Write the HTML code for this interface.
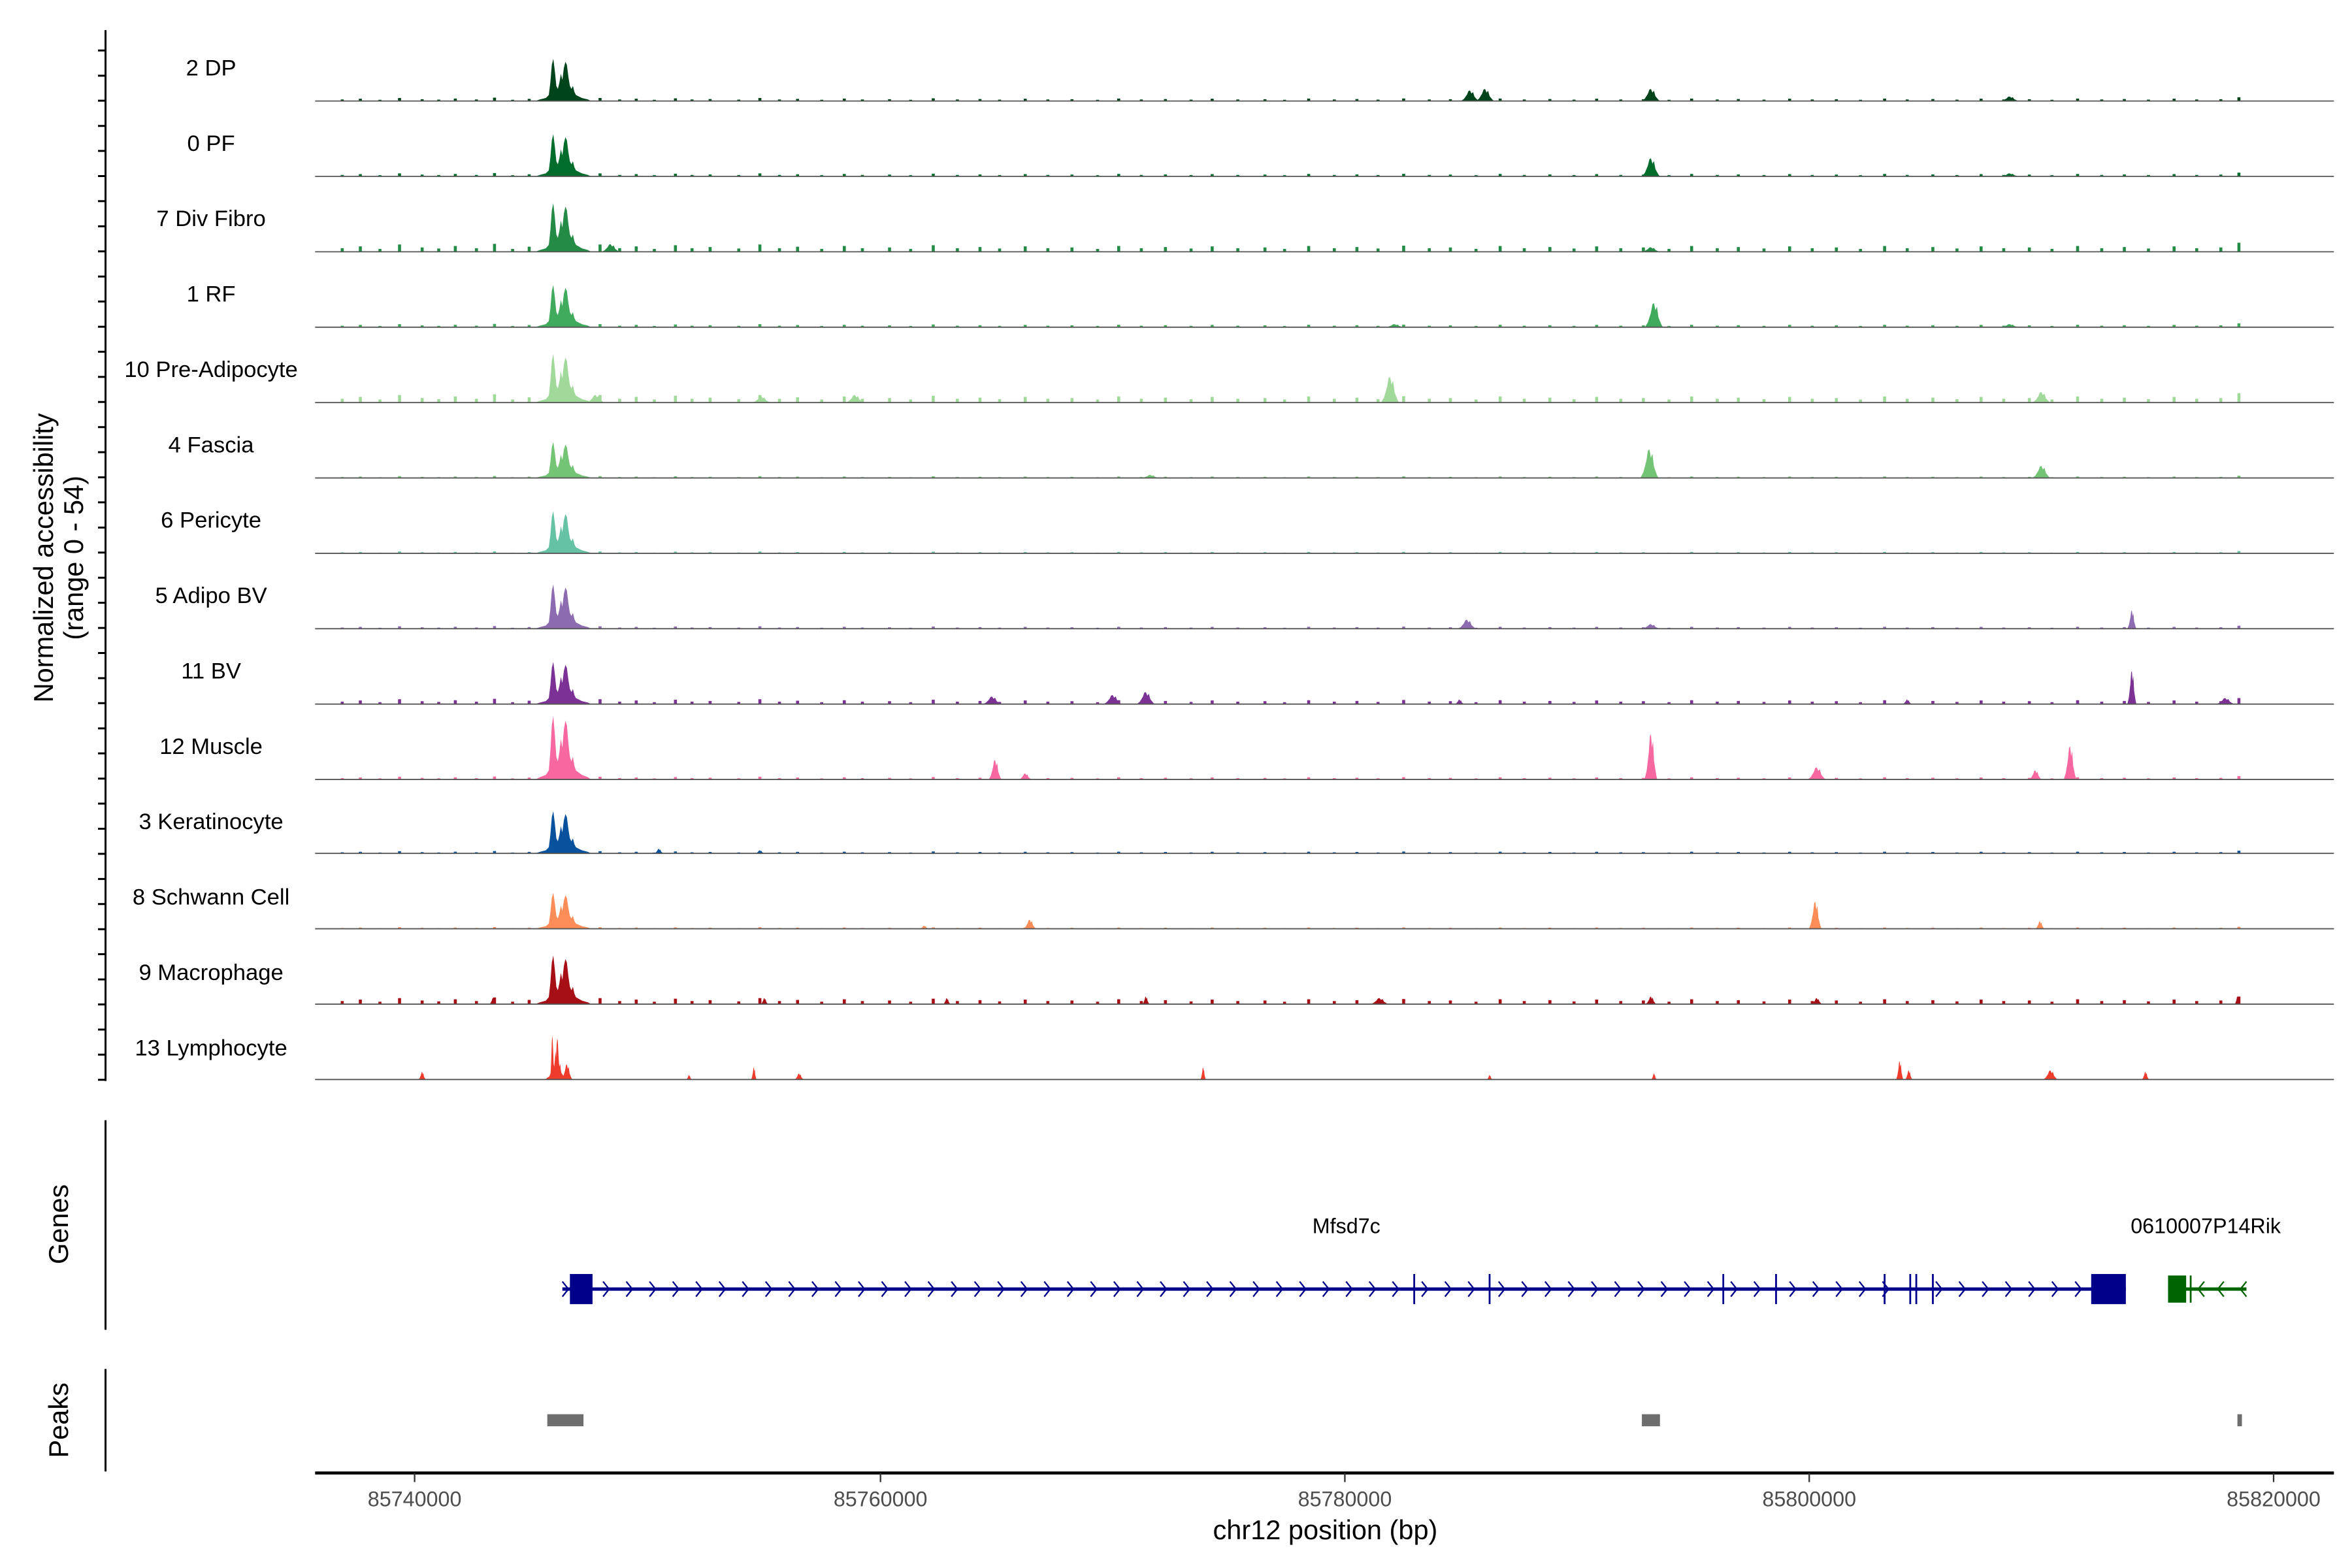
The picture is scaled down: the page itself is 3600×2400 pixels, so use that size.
<!DOCTYPE html>
<html><head><meta charset="utf-8">
<style>
html,body{margin:0;padding:0;background:#fff;}
svg{display:block;}
text{font-family:"Liberation Sans",Arial,sans-serif;}
</style></head>
<body>
<svg width="3600" height="2400" viewBox="0 0 1560 1040" xmlns="http://www.w3.org/2000/svg" xmlns:xlink="http://www.w3.org/1999/xlink">
<defs>
<path id="main" d="M355,0 L358,-1 L362,-2 L364,-4 L365,-12 L366,-24 L367,-28 L368,-20 L369,-10 L370,-8 L371,-12 L372,-18 L373,-14 L374,-22 L375,-26 L376,-24 L377,-16 L378,-10 L379,-8 L380,-10 L381,-6 L382,-4 L384,-3 L386,-2 L390,-1 L392,0 Z"/>
<path id="pk" d="M-6,0 L-4,-0.2 L-2,-0.6 L-1,-0.95 L0,-1 L1,-0.7 L2,-0.85 L3,-0.4 L5,-0.1 L6,0 Z"/>
<path id="noise" d="M226,0 h2 v-1 h-2 Z M238,0 h2 v-1.5 h-2 Z M251,0 h2 v-0.8 h-2 Z M264,0 h2 v-2 h-2 Z M279,0 h2 v-1.2 h-2 Z M290,0 h2 v-0.9 h-2 Z M301,0 h2 v-1.6 h-2 Z M315,0 h2 v-1 h-2 Z M327,0 h2 v-2.2 h-2 Z M339,0 h2 v-0.8 h-2 Z M350,0 h2 v-1.4 h-2 Z M397,0 h2 v-2 h-2 Z M410,0 h2 v-1 h-2 Z M421,0 h2 v-1.5 h-2 Z M433,0 h2 v-0.8 h-2 Z M447,0 h2 v-1.8 h-2 Z M458,0 h2 v-1 h-2 Z M470,0 h2 v-1.3 h-2 Z M489,0 h2 v-0.9 h-2 Z M503,0 h2 v-2 h-2 Z M516,0 h2 v-1 h-2 Z M528,0 h2 v-1.4 h-2 Z M544,0 h2 v-0.8 h-2 Z M559,0 h2 v-1.6 h-2 Z M571,0 h2 v-1 h-2 Z M589,0 h2 v-1.2 h-2 Z M603,0 h2 v-0.8 h-2 Z M618,0 h2 v-1.8 h-2 Z M634,0 h2 v-1 h-2 Z M649,0 h2 v-1.3 h-2 Z M662,0 h2 v-0.9 h-2 Z M679,0 h2 v-1.5 h-2 Z M694,0 h2 v-1 h-2 Z M710,0 h2 v-1.2 h-2 Z M727,0 h2 v-0.8 h-2 Z M741,0 h2 v-1.6 h-2 Z M756,0 h2 v-1 h-2 Z M772,0 h2 v-1.3 h-2 Z M789,0 h2 v-0.9 h-2 Z M803,0 h2 v-1.5 h-2 Z M820,0 h2 v-1 h-2 Z M838,0 h2 v-1.2 h-2 Z M851,0 h2 v-0.8 h-2 Z M867,0 h2 v-1.6 h-2 Z M884,0 h2 v-1 h-2 Z M899,0 h2 v-1.3 h-2 Z M913,0 h2 v-0.9 h-2 Z M930,0 h2 v-1.7 h-2 Z M947,0 h2 v-1 h-2 Z M961,0 h2 v-1.2 h-2 Z M978,0 h2 v-0.8 h-2 Z M994,0 h2 v-1.6 h-2 Z M1010,0 h2 v-1 h-2 Z M1027,0 h2 v-1.3 h-2 Z M1043,0 h2 v-0.9 h-2 Z M1058,0 h2 v-1.5 h-2 Z M1074,0 h2 v-1 h-2 Z M1089,0 h2 v-1.2 h-2 Z M1106,0 h2 v-0.8 h-2 Z M1121,0 h2 v-1.6 h-2 Z M1138,0 h2 v-1 h-2 Z M1152,0 h2 v-1.3 h-2 Z M1169,0 h2 v-0.9 h-2 Z M1186,0 h2 v-1.5 h-2 Z M1201,0 h2 v-1 h-2 Z M1217,0 h2 v-1.2 h-2 Z M1233,0 h2 v-0.8 h-2 Z M1249,0 h2 v-1.6 h-2 Z M1264,0 h2 v-1 h-2 Z M1281,0 h2 v-1.3 h-2 Z M1297,0 h2 v-0.9 h-2 Z M1313,0 h2 v-1.5 h-2 Z M1328,0 h2 v-1 h-2 Z M1345,0 h2 v-1.2 h-2 Z M1360,0 h2 v-0.8 h-2 Z M1377,0 h2 v-1.6 h-2 Z M1393,0 h2 v-1 h-2 Z M1408,0 h2 v-1.3 h-2 Z M1424,0 h2 v-0.9 h-2 Z M1441,0 h2 v-1.5 h-2 Z M1456,0 h2 v-1 h-2 Z M1472,0 h2 v-1.2 h-2 Z M1484,0 h2 v-2.5 h-2 Z"/>
</defs>
<rect width="1560" height="1040" fill="#fff"/>

<!-- tracks -->
<g fill="#00441b" transform="translate(0,67)">
<use xlink:href="#main"/><use xlink:href="#noise"/>
<use xlink:href="#pk" transform="translate(975,0) scale(1,7)"/><use xlink:href="#pk" transform="translate(985,0) scale(1,8)"/>
<use xlink:href="#pk" transform="translate(1095,0) scale(1,8)"/><use xlink:href="#pk" transform="translate(1333,0) scale(1,3)"/>
</g>
<g fill="#006d2c" transform="translate(0,117)">
<use xlink:href="#main"/><use xlink:href="#noise"/>
<use xlink:href="#pk" transform="translate(1095,0) scale(1,12)"/><use xlink:href="#pk" transform="translate(1333,0) scale(1,2)"/>
</g>
<g fill="#238b45" transform="translate(0,167)">
<use xlink:href="#main" transform="scale(1,1.15)"/><use xlink:href="#noise" transform="scale(1,2.4)"/>
<use xlink:href="#pk" transform="translate(1095,0) scale(1,3)"/><use xlink:href="#pk" transform="translate(405,0) scale(1,5)"/>
</g>
<g fill="#41ab5d" transform="translate(0,217)">
<use xlink:href="#main"/><use xlink:href="#noise"/>
<use xlink:href="#pk" transform="translate(1097,0) scale(1,16)"/><use xlink:href="#pk" transform="translate(925,0) scale(1,2)"/><use xlink:href="#pk" transform="translate(1333,0) scale(1,2)"/>
</g>
<g fill="#a1d99b" transform="translate(0,267)">
<use xlink:href="#main" transform="scale(1,1.15)"/><use xlink:href="#noise" transform="scale(1,2.5)"/>
<use xlink:href="#pk" transform="translate(922,0) scale(1,17)"/><use xlink:href="#pk" transform="translate(567,0) scale(1,5)"/>
<use xlink:href="#pk" transform="translate(1354,0) scale(1,7)"/><use xlink:href="#pk" transform="translate(505,0) scale(1,4)"/>
<use xlink:href="#pk" transform="translate(395,0) scale(1,5)"/>
</g>
<g fill="#74c476" transform="translate(0,317)">
<use xlink:href="#main" transform="scale(1,0.85)"/><use xlink:href="#noise" transform="scale(1,0.6)"/>
<use xlink:href="#pk" transform="translate(1094,0) scale(1,19)"/><use xlink:href="#pk" transform="translate(1354,0) scale(1,8)"/><use xlink:href="#pk" transform="translate(763,0) scale(1,2)"/>
</g>
<g fill="#66c2a4" transform="translate(0,367)">
<use xlink:href="#main"/><use xlink:href="#noise" transform="scale(1,0.6)"/>
</g>
<g fill="#8c6bb1" transform="translate(0,417)">
<use xlink:href="#main" transform="scale(1,1.05)"/><use xlink:href="#noise" transform="scale(1,0.8)"/>
<use xlink:href="#pk" transform="translate(973,0) scale(1,6)"/><use xlink:href="#pk" transform="translate(1095,0) scale(1,3)"/>
<use xlink:href="#pk" transform="translate(1414,0) scale(0.5,12)"/>
</g>
<g fill="#7b3294" transform="translate(0,467)">
<use xlink:href="#main"/><use xlink:href="#noise" transform="scale(1,1.6)"/>
<use xlink:href="#pk" transform="translate(1414,0) scale(0.5,22)"/><use xlink:href="#pk" transform="translate(658,0) scale(1,5)"/>
<use xlink:href="#pk" transform="translate(738,0) scale(1,6)"/><use xlink:href="#pk" transform="translate(760,0) scale(1,8)"/>
<use xlink:href="#pk" transform="translate(1476,0) scale(1,4)"/><use xlink:href="#pk" transform="translate(968,0) scale(0.5,3)"/><use xlink:href="#pk" transform="translate(1265,0) scale(0.5,3)"/>
</g>
<g fill="#f768a1" transform="translate(0,517)">
<use xlink:href="#main" transform="scale(1,1.5)"/><use xlink:href="#noise" transform="scale(1,0.9)"/>
<use xlink:href="#pk" transform="translate(1095,0) scale(0.7,30)"/><use xlink:href="#pk" transform="translate(660,0) scale(0.7,13)"/>
<use xlink:href="#pk" transform="translate(1373,0) scale(0.7,22)"/><use xlink:href="#pk" transform="translate(1350,0) scale(0.7,6)"/>
<use xlink:href="#pk" transform="translate(1205,0) scale(1,8)"/><use xlink:href="#pk" transform="translate(680,0) scale(0.7,4)"/>
</g>
<g fill="#08519c" transform="translate(0,566)">
<use xlink:href="#main"/><use xlink:href="#noise" transform="scale(1,0.7)"/>
<use xlink:href="#pk" transform="translate(437,0) scale(0.5,3)"/><use xlink:href="#pk" transform="translate(504,0) scale(0.5,2)"/>
</g>
<g fill="#fc8d59" transform="translate(0,616)">
<use xlink:href="#main" transform="scale(1,0.85)"/><use xlink:href="#noise" transform="scale(1,0.5)"/>
<use xlink:href="#pk" transform="translate(1204,0) scale(0.7,18)"/><use xlink:href="#pk" transform="translate(683,0) scale(0.7,6)"/>
<use xlink:href="#pk" transform="translate(1353,0) scale(0.5,5)"/><use xlink:href="#pk" transform="translate(613,0) scale(0.5,2)"/>
</g>
<g fill="#a50f15" transform="translate(0,666)">
<use xlink:href="#main" transform="scale(1,1.15)"/><use xlink:href="#noise" transform="scale(1,2)"/>
<use xlink:href="#pk" transform="translate(628,0) scale(0.4,4)"/><use xlink:href="#pk" transform="translate(760,0) scale(0.4,5)"/>
<use xlink:href="#pk" transform="translate(915,0) scale(1,4)"/><use xlink:href="#pk" transform="translate(1095,0) scale(0.6,5)"/>
<use xlink:href="#pk" transform="translate(1205,0) scale(0.6,4)"/><use xlink:href="#pk" transform="translate(1484,0) scale(0.3,5)"/>
<use xlink:href="#pk" transform="translate(507,0) scale(0.4,4)"/><use xlink:href="#pk" transform="translate(327,0) scale(0.4,4)"/>
</g>
<g fill="#ef3b2c" transform="translate(0,716)">
<use xlink:href="#main" transform="translate(366,0) scale(0.4,1.05) translate(-366,0)"/>
<use xlink:href="#pk" transform="translate(280,0) scale(0.4,5)"/><use xlink:href="#pk" transform="translate(457,0) scale(0.3,3)"/>
<use xlink:href="#pk" transform="translate(500,0) scale(0.3,8)"/><use xlink:href="#pk" transform="translate(530,0) scale(0.5,4)"/>
<use xlink:href="#pk" transform="translate(798,0) scale(0.3,8)"/><use xlink:href="#pk" transform="translate(988,0) scale(0.3,3)"/>
<use xlink:href="#pk" transform="translate(1097,0) scale(0.3,4)"/><use xlink:href="#pk" transform="translate(1260,0) scale(0.4,12)"/>
<use xlink:href="#pk" transform="translate(1266,0) scale(0.4,6)"/><use xlink:href="#pk" transform="translate(1360,0) scale(0.8,6)"/>
<use xlink:href="#pk" transform="translate(1423,0) scale(0.4,5)"/><use xlink:href="#pk" transform="translate(376,0) scale(0.6,10)"/>
</g>

<!-- baselines -->
<g stroke="#555" stroke-width="0.8">
<line x1="209" y1="67" x2="1548" y2="67"/><line x1="209" y1="117" x2="1548" y2="117"/><line x1="209" y1="167" x2="1548" y2="167"/><line x1="209" y1="217" x2="1548" y2="217"/><line x1="209" y1="267" x2="1548" y2="267"/><line x1="209" y1="317" x2="1548" y2="317"/><line x1="209" y1="367" x2="1548" y2="367"/><line x1="209" y1="417" x2="1548" y2="417"/><line x1="209" y1="467" x2="1548" y2="467"/><line x1="209" y1="517" x2="1548" y2="517"/><line x1="209" y1="566" x2="1548" y2="566"/><line x1="209" y1="616" x2="1548" y2="616"/><line x1="209" y1="666" x2="1548" y2="666"/><line x1="209" y1="716" x2="1548" y2="716"/>
</g>

<!-- left axis -->
<g stroke="#000" stroke-width="1.3">
<line x1="70" y1="20" x2="70" y2="717"/>
<path d="M65,33.5H70 M65,50.2H70 M65,66.8H70 M65,83.5H70 M65,100.1H70 M65,116.8H70 M65,133.4H70 M65,150.1H70 M65,166.7H70 M65,183.4H70 M65,200H70 M65,216.7H70 M65,233.3H70 M65,250H70 M65,266.6H70 M65,283.3H70 M65,299.9H70 M65,316.6H70 M65,333.2H70 M65,349.9H70 M65,366.5H70 M65,383.2H70 M65,399.8H70 M65,416.5H70 M65,433.1H70 M65,449.8H70 M65,466.4H70 M65,483.1H70 M65,499.7H70 M65,516.4H70 M65,533H70 M65,549.7H70 M65,566.3H70 M65,583H70 M65,599.6H70 M65,616.3H70 M65,632.9H70 M65,649.6H70 M65,666.2H70 M65,682.9H70 M65,699.5H70 M65,716.2H70"/>
</g>

<g font-size="15" fill="#000" text-anchor="middle">
<text x="140" y="50">2 DP</text>
<text x="140" y="100">0 PF</text>
<text x="140" y="150">7 Div Fibro</text>
<text x="140" y="200">1 RF</text>
<text x="140" y="250">10 Pre-Adipocyte</text>
<text x="140" y="300">4 Fascia</text>
<text x="140" y="350">6 Pericyte</text>
<text x="140" y="400">5 Adipo BV</text>
<text x="140" y="450">11 BV</text>
<text x="140" y="500">12 Muscle</text>
<text x="140" y="550">3 Keratinocyte</text>
<text x="140" y="600">8 Schwann Cell</text>
<text x="140" y="650">9 Macrophage</text>
<text x="140" y="700">13 Lymphocyte</text>
</g>
<g font-size="18" fill="#000" text-anchor="middle">
<text transform="translate(35,370) rotate(-90)">Normalized accessibility</text>
<text transform="translate(55,370) rotate(-90)">(range 0 - 54)</text>
<text transform="translate(45,812) rotate(-90)">Genes</text>
<text transform="translate(45,942) rotate(-90)">Peaks</text>
</g>
<line x1="70" y1="743" x2="70" y2="882" stroke="#000" stroke-width="1.3"/>
<line x1="70" y1="908" x2="70" y2="976" stroke="#000" stroke-width="1.3"/>

<!-- genes -->
<line x1="373" y1="855" x2="1410" y2="855" stroke="#00008b" stroke-width="2.2"/>
<rect x="378" y="845" width="15" height="20" fill="#00008b"/>
<rect x="1387" y="845" width="23" height="20" fill="#00008b"/>
<path d="M938,845V865 M988,845V865 M1143,845V865 M1178,845V865 M1250,845V865 M1267,845V865 M1271,845V865 M1282,845V865" stroke="#00008b" stroke-width="1.2"/>
<path fill="none" stroke="#00008b" stroke-width="1" d="M373,850l4,5l-4,5 M400,850l4,5l-4,5 M415.4,850l4,5l-4,5 M430.8,850l4,5l-4,5 M446.2,850l4,5l-4,5 M461.6,850l4,5l-4,5 M477,850l4,5l-4,5 M492.4,850l4,5l-4,5 M507.8,850l4,5l-4,5 M523.2,850l4,5l-4,5 M538.6,850l4,5l-4,5 M554,850l4,5l-4,5 M569.4,850l4,5l-4,5 M584.8,850l4,5l-4,5 M600.2,850l4,5l-4,5 M615.6,850l4,5l-4,5 M631,850l4,5l-4,5 M646.4,850l4,5l-4,5 M661.8,850l4,5l-4,5 M677.2,850l4,5l-4,5 M692.6,850l4,5l-4,5 M708,850l4,5l-4,5 M723.4,850l4,5l-4,5 M738.8,850l4,5l-4,5 M754.2,850l4,5l-4,5 M769.6,850l4,5l-4,5 M785,850l4,5l-4,5 M800.4,850l4,5l-4,5 M815.8,850l4,5l-4,5 M831.2,850l4,5l-4,5 M846.6,850l4,5l-4,5 M862,850l4,5l-4,5 M877.4,850l4,5l-4,5 M892.8,850l4,5l-4,5 M908.2,850l4,5l-4,5 M923.6,850l4,5l-4,5 M943,850l4,5l-4,5 M958.4,850l4,5l-4,5 M973.8,850l4,5l-4,5 M994,850l4,5l-4,5 M1009.4,850l4,5l-4,5 M1024.8,850l4,5l-4,5 M1040.2,850l4,5l-4,5 M1055.6,850l4,5l-4,5 M1071,850l4,5l-4,5 M1086.4,850l4,5l-4,5 M1101.8,850l4,5l-4,5 M1117.2,850l4,5l-4,5 M1132.6,850l4,5l-4,5 M1148,850l4,5l-4,5 M1163.4,850l4,5l-4,5 M1187,850l4,5l-4,5 M1202.4,850l4,5l-4,5 M1217.8,850l4,5l-4,5 M1233.2,850l4,5l-4,5 M1248.6,850l4,5l-4,5 M1284,850l4,5l-4,5 M1299.4,850l4,5l-4,5 M1314.8,850l4,5l-4,5 M1330.2,850l4,5l-4,5 M1345.6,850l4,5l-4,5 M1361,850l4,5l-4,5 M1376.4,850l4,5l-4,5"/>
<line x1="1438" y1="855" x2="1490" y2="855" stroke="#006400" stroke-width="2.2"/>
<rect x="1438" y="846" width="12" height="18" fill="#006400"/>
<line x1="1453" y1="846" x2="1453" y2="864" stroke="#006400" stroke-width="1.2"/>
<path fill="none" stroke="#006400" stroke-width="1" d="M1462,850l-4,5l4,5 M1475,850l-4,5l4,5 M1490,850l-4,5l4,5"/>
<text x="893" y="818" font-size="14" text-anchor="middle">Mfsd7c</text>
<text x="1463" y="818" font-size="14" text-anchor="middle">0610007P14Rik</text>

<!-- peaks -->
<rect x="363" y="938" width="24" height="8" fill="#6e6e6e"/>
<rect x="1089" y="938" width="12" height="8" fill="#6e6e6e"/>
<rect x="1484" y="938" width="3" height="8" fill="#6e6e6e"/>

<!-- x axis -->
<line x1="209" y1="977" x2="1548" y2="977" stroke="#000" stroke-width="2"/>
<path stroke="#333" stroke-width="1" d="M275,977V983 M584,977V983 M892,977V983 M1200,977V983 M1508,977V983"/>
<g font-size="14" fill="#4d4d4d" text-anchor="middle">
<text x="275" y="999">85740000</text><text x="584" y="999">85760000</text><text x="892" y="999">85780000</text><text x="1200" y="999">85800000</text><text x="1508" y="999">85820000</text>
</g>
<text x="879" y="1021" font-size="18" text-anchor="middle">chr12 position (bp)</text>
</svg>
</body></html>
